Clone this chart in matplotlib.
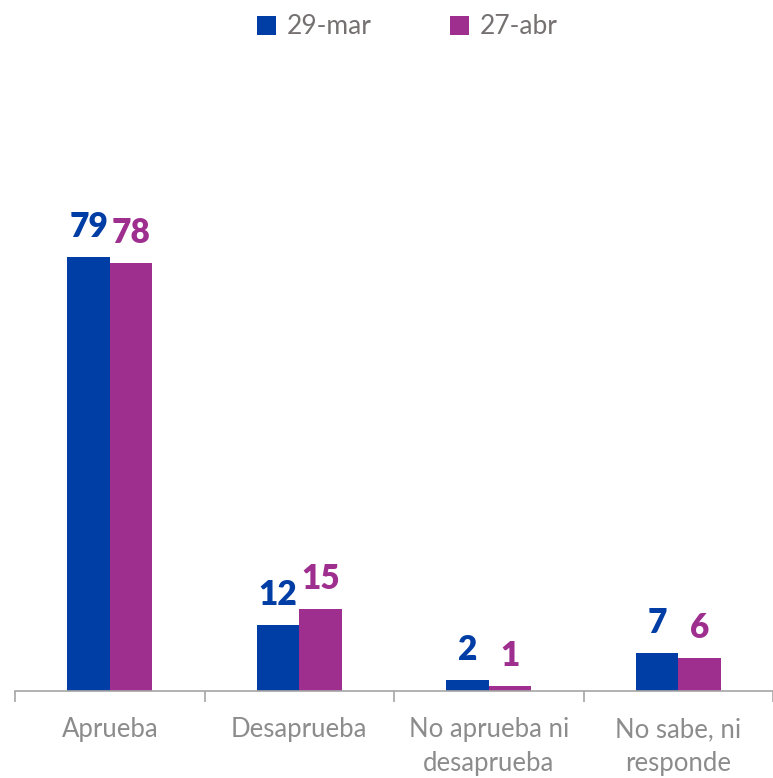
import matplotlib.pyplot as plt
import numpy as np

plt.rcParams['font.family'] = ['Lato', 'DejaVu Sans']

categories = ['Aprueba', 'Desaprueba', 'No aprueba ni\ndesaprueba', 'No sabe, ni\nresponde']
series_names = ['29-mar', '27-abr']
mar_values = [79, 12, 2, 7]
abr_values = [78, 15, 1, 6]

blue = '#003DA5'
purple = '#9E2F8F'
gray = '#8C8C8C'

W, H = 773, 778
fig = plt.figure(figsize=(W / 100, H / 100), dpi=100)
ax = fig.add_axes([15 / W, 87 / H, (W - 15) / W, 549 / H])

x = np.arange(len(categories))
bw = 0.223
b1 = ax.bar(x - bw / 2, mar_values, bw, color=blue, label=series_names[0])
b2 = ax.bar(x + bw / 2, abr_values, bw, color=purple, label=series_names[1])

for bars, vals, c in [(b1, mar_values, blue), (b2, abr_values, purple)]:
    for b, v in zip(bars, vals):
        ax.annotate(str(v), (b.get_x() + b.get_width() / 2, v), xytext=(0, 10),
                    textcoords='offset points', ha='center', va='bottom',
                    fontsize=24, fontweight='heavy', color=c)

ax.set_xlim(-0.5, -0.5 + (W - 15) / 193)
ax.set_ylim(0, 100)
for s in ['top', 'right', 'left']:
    ax.spines[s].set_visible(False)
ax.spines['bottom'].set_color('#A6A6A6')
ax.spines['bottom'].set_linewidth(1.2)
ax.set_yticks([])
ax.set_xticks(np.arange(-0.5, 4, 1), minor=False)
ax.set_xticklabels([])
ax.tick_params(axis='x', length=8, color='#A6A6A6', width=1.2)
for i, lab in enumerate(categories):
    ax.text(i, -0.048, lab, transform=ax.get_xaxis_transform(), ha='center', va='top',
            fontsize=18.5, color=gray, linespacing=1.42)

leg = fig.legend(handles=[b1, b2], labels=series_names, loc='center', bbox_to_anchor=(0.527, 1 - 27 / H),
                 ncol=2, frameon=False, fontsize=19, handlelength=0.72, handleheight=0.72,
                 handletextpad=0.4, columnspacing=3.0)
for t in leg.get_texts():
    t.set_color('#767171')

fig.savefig('out.png', dpi=100)
